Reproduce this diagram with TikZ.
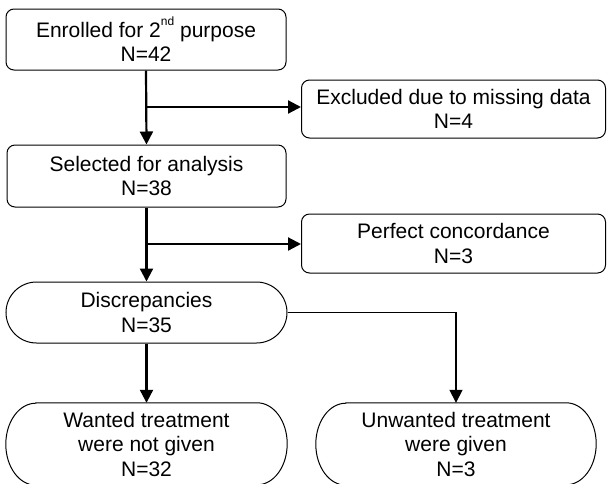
\documentclass[tikz,border=0pt]{standalone}
\usepackage{fontspec}
\setmainfont{Liberation Sans}
\usetikzlibrary{arrows.meta,shapes.misc}
\begin{document}
\begin{tikzpicture}[x=1pt,y=-1pt,
  every node/.style={font=\fontsize{21}{24.5}\selectfont, align=center, inner sep=0pt},
  rbox/.style={draw, line width=1pt, rounded corners=8pt},
  stad/.style={draw, line width=1pt, rounded rectangle},
  conn/.style={line width=2.2pt, -{Triangle[length=13pt,width=13pt]}},
  conn2/.style={line width=1.5pt, -{Triangle[length=13pt,width=13pt]}}
]
\useasboundingbox (0,0) rectangle (607,483);
\clip (0,0) rectangle (607,483);
\node[rbox, minimum width=280pt, minimum height=61pt] (enr) at (146,39.5) {Enrolled for 2\raisebox{0.55em}{\fontsize{12}{12}\selectfont nd} purpose\\N=42};
\node[rbox, minimum width=304pt, minimum height=58pt] (exc) at (453.5,109) {Excluded due to missing data\\N=4};
\node[rbox, minimum width=279pt, minimum height=62pt] (sel) at (146.5,176) {Selected for analysis\\N=38};
\node[rbox, minimum width=304pt, minimum height=59pt] (per) at (453.5,243.5) {Perfect concordance\\N=3};
\node[stad, minimum width=281pt, minimum height=61pt] (dis) at (146.5,312.5) {Discrepancies\\N=35};
\node[minimum width=281pt, minimum height=82pt] (wan) at (146.5,444) {Wanted treatment\\were not given\\N=32};
\node[minimum width=280pt, minimum height=82pt] (unw) at (456,444) {Unwanted treatment\\were given\\N=3};
\foreach \n in {wan,unw}{
  \draw[line width=1pt] ([xshift=30pt]\n.north west) -- ([xshift=-30pt]\n.north east)
    arc[start angle=90,end angle=-90,x radius=30pt,y radius=41pt]
    -- ([xshift=30pt]\n.south west)
    arc[start angle=270,end angle=90,x radius=30pt,y radius=41pt] -- cycle;
}
\coordinate (b1) at (enr.south |- 0,107);
\coordinate (b2) at (sel.south |- 0,244);
\draw[conn] (enr.south) -- (sel.north);
\draw[conn] (b1) -- (b1 -| exc.west);
\draw[conn] (sel.south) -- (dis.north);
\draw[conn] (b2) -- (b2 -| per.west);
\draw[conn] (dis.south) -- (wan.north);
\draw[conn2] (dis.east) -| (unw.north);
\end{tikzpicture}
\end{document}
